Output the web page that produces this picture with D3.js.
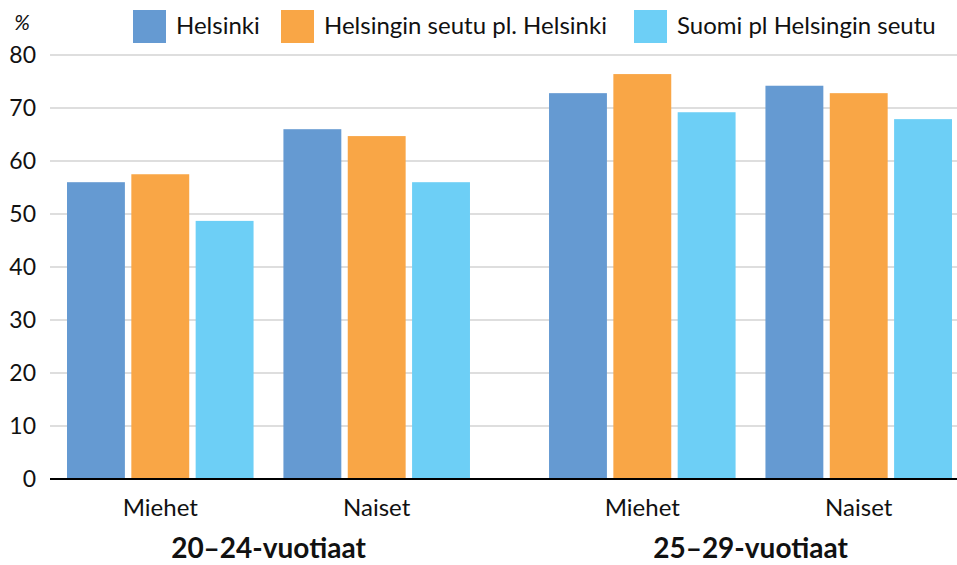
<!DOCTYPE html>
<html>
<head>
<meta charset="utf-8">
<script src="https://cdn.jsdelivr.net/npm/d3@7"></script>
<style>
    body { margin: 0; background: #fff; }
    text { font-family: Lato, "Open Sans", sans-serif; fill: #111; }
</style>
</head>
<body>
<div id="chart"></div>
<script>

// data
const ageGroups = ["20–24-vuotiaat", "25–29-vuotiaat"];
const sexes = ["Miehet", "Naiset"];
const seriesNames = ["Helsinki", "Helsingin seutu pl. Helsinki", "Suomi pl Helsingin seutu"];
const helsinki = [56.0, 66.0, 72.8, 74.2];
const seutu = [57.5, 64.7, 76.4, 72.8];
const suomi = [48.7, 56.0, 69.2, 67.9];
const yTicks = [0, 10, 20, 30, 40, 50, 60, 70, 80];

const colors = ["#659ad2", "#f9a646", "#6dcff6"];

const widthSvg = 957, heightSvg = 565;
const plotLeft = 50, plotRight = 957, plotTop = 55, plotBottom = 479;

// build rows
const rows = [];
ageGroups.forEach((g, gi) => {
    sexes.forEach((s, si) => {
        const idx = gi * 2 + si;
        rows.push({ group: g, sex: s, values: [helsinki[idx], seutu[idx], suomi[idx]] });
    });
});

const svg = d3.select("#chart").append("svg")
    .attr("width", widthSvg).attr("height", heightSvg);

// scales
const yScale = d3.scaleLinear().domain([0, 80]).range([plotBottom, plotTop]);

const groupScale = d3.scaleBand().domain(ageGroups)
    .range([67, 952]).paddingInner(0.164).paddingOuter(0);

const sexScale = d3.scaleBand().domain(sexes)
    .range([0, groupScale.bandwidth()]).paddingInner(0.138).paddingOuter(0);

const seriesScale = d3.scaleBand().domain(seriesNames)
    .range([0, sexScale.bandwidth()]).paddingInner(0.1).paddingOuter(0);

const color = d3.scaleOrdinal(seriesNames, colors);

// gridlines
svg.append("g")
    .selectAll("line")
    .data(yTicks.filter(t => t > 0))
    .enter()
    .append("line")
    .attr("x1", plotLeft).attr("x2", plotRight)
    .attr("y1", d => yScale(d)).attr("y2", d => yScale(d))
    .attr("stroke", "#bdbdbd").attr("stroke-width", 1.2);

// y axis labels
const yAxis = d3.axisLeft(yScale).tickValues(yTicks).tickSize(0).tickPadding(0);
const yAxisG = svg.append("g")
    .attr("transform", `translate(${plotLeft - 14}, 0)`)
    .call(yAxis);
yAxisG.select(".domain").remove();
yAxisG.selectAll("text")
    .attr("font-family", "Lato, sans-serif")
    .attr("font-size", 23)
    .attr("fill", "#111");

svg.append("text")
    .text("%")
    .attr("x", 22).attr("y", 30)
    .attr("text-anchor", "middle")
    .attr("font-size", 21)
    .attr("font-style", "italic");

// bars
const clusters = svg.append("g").selectAll("g")
    .data(rows)
    .enter()
    .append("g")
    .attr("transform", d => `translate(${groupScale(d.group) + sexScale(d.sex)}, 0)`);

clusters.selectAll("rect")
    .data(d => d.values.map((v, i) => ({ name: seriesNames[i], value: v })))
    .enter()
    .append("rect")
    .attr("x", d => seriesScale(d.name))
    .attr("width", seriesScale.bandwidth())
    .attr("y", d => yScale(d.value))
    .attr("height", d => yScale(0) - yScale(d.value))
    .attr("fill", d => color(d.name));

// baseline
svg.append("line")
    .attr("x1", plotLeft).attr("x2", plotRight)
    .attr("y1", yScale(0)).attr("y2", yScale(0))
    .attr("stroke", "#000").attr("stroke-width", 2);

// category labels
clusters.append("text")
    .text(d => d.sex)
    .attr("x", sexScale.bandwidth() / 2)
    .attr("y", 516)
    .attr("text-anchor", "middle")
    .attr("font-size", 24);

// age group labels
svg.append("g").selectAll("text")
    .data(ageGroups)
    .enter()
    .append("text")
    .text(d => d)
    .attr("x", d => groupScale(d) + groupScale.bandwidth() / 2)
    .attr("y", 558)
    .attr("text-anchor", "middle")
    .attr("font-size", 28)
    .attr("font-weight", "bold");

// legend
const legendX = [133, 281, 634];
const legend = svg.append("g").selectAll("g")
    .data(seriesNames)
    .enter()
    .append("g")
    .attr("transform", (d, i) => `translate(${legendX[i]}, 10)`);

legend.append("rect")
    .attr("width", 33).attr("height", 33)
    .attr("fill", d => color(d));

legend.append("text")
    .text(d => d)
    .attr("x", 43).attr("y", 24)
    .attr("font-size", 24);

</script>
</body>
</html>
